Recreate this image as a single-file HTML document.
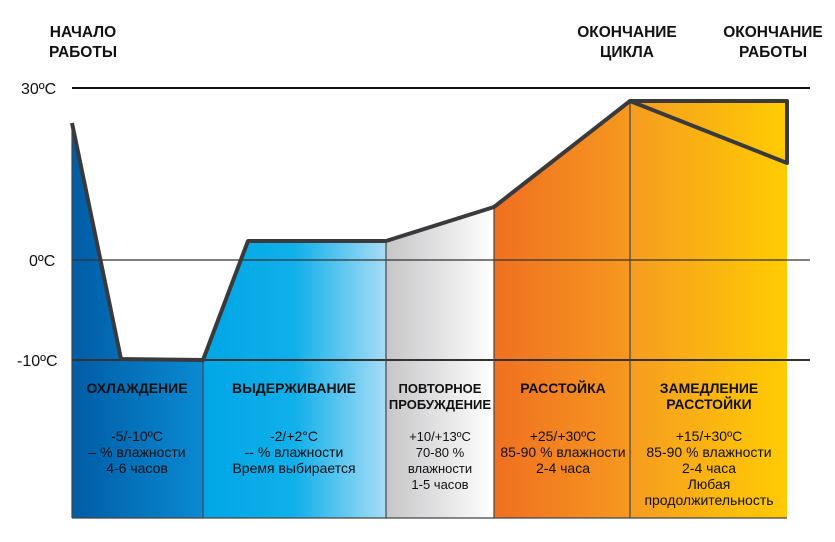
<!DOCTYPE html>
<html><head><meta charset="utf-8"><style>
body{margin:0;background:#fff}
svg{display:block;font-family:"Liberation Sans",Arial,sans-serif}
.h{font-weight:bold;font-size:14px;fill:#111;text-anchor:middle}
.t{font-size:14px;fill:#111;text-anchor:middle}
.ax{font-size:16px;fill:#111}
.top{font-weight:bold;font-size:15.5px;fill:#111;text-anchor:middle}
</style></head><body>
<svg width="835" height="542" viewBox="0 0 835 542">
<defs>
<linearGradient id="g1"><stop offset="0" stop-color="#005ca6"/><stop offset="1" stop-color="#0a8ad2"/></linearGradient>
<linearGradient id="g2"><stop offset="0" stop-color="#00a6e6"/><stop offset="0.5" stop-color="#10b0ea"/><stop offset="1" stop-color="#a6dcf6"/></linearGradient>
<linearGradient id="g3"><stop offset="0" stop-color="#c6c6c8"/><stop offset="1" stop-color="#ffffff"/></linearGradient>
<linearGradient id="g4"><stop offset="0" stop-color="#f07020"/><stop offset="1" stop-color="#f6981f"/></linearGradient>
<linearGradient id="g5"><stop offset="0" stop-color="#f59c20"/><stop offset="1" stop-color="#ffcc02"/></linearGradient>
<clipPath id="c"><polygon points="72,123 121,359 203,360 248,241 386,241 494,207 630,101 787,101 787,518 72,518"/></clipPath>
</defs>
<g clip-path="url(#c)">
<rect x="72" y="90" width="131" height="430" fill="url(#g1)"/>
<rect x="203" y="90" width="183" height="430" fill="url(#g2)"/>
<rect x="386" y="90" width="108" height="430" fill="url(#g3)"/>
<rect x="494" y="90" width="136" height="430" fill="url(#g4)"/>
<rect x="630" y="90" width="157" height="430" fill="url(#g5)"/>
</g>
<line x1="72" y1="88" x2="810" y2="88" stroke="#111" stroke-width="2"/>
<line x1="72" y1="260" x2="810" y2="260" stroke="#333" stroke-width="1.3"/>
<line x1="72" y1="360" x2="810" y2="360" stroke="#333" stroke-width="2"/>
<g stroke="#444" stroke-width="1.2">
<line x1="203" y1="360" x2="203" y2="518"/>
<line x1="386" y1="241" x2="386" y2="518"/>
<line x1="494" y1="207" x2="494" y2="518"/>
<line x1="630" y1="101" x2="630" y2="518"/>
<line x1="72" y1="518" x2="787" y2="518"/>
<line x1="72" y1="123" x2="72" y2="518"/>
</g>
<polyline points="72,123 121,359 203,360 248,241 386,241 494,207 630,101 787,101 787,163 630,101" fill="none" stroke="#3a3a3c" stroke-width="4" stroke-linejoin="round"/>
<text class="ax" x="21" y="94">30ºC</text>
<text class="ax" x="29" y="266">0ºC</text>
<text class="ax" x="17" y="366">-10ºC</text>
<text class="top" x="83" y="37">НАЧАЛО</text>
<text class="top" x="83" y="57">РАБОТЫ</text>
<text class="top" x="627" y="37">ОКОНЧАНИЕ</text>
<text class="top" x="627" y="57">ЦИКЛА</text>
<text class="top" x="773" y="37">ОКОНЧАНИЕ</text>
<text class="top" x="773" y="57">РАБОТЫ</text>
<text class="h" x="137" y="393">ОХЛАЖДЕНИЕ</text>
<text class="t" x="137" y="441">-5/-10ºC</text>
<text class="t" x="137" y="457">– % влажности</text>
<text class="t" x="137" y="473">4-6 часов</text>
<text class="h" x="294" y="393">ВЫДЕРЖИВАНИЕ</text>
<text class="t" x="294" y="441">-2/+2°C</text>
<text class="t" x="294" y="457">-- % влажности</text>
<text class="t" x="294" y="473">Время выбирается</text>
<text class="h" x="440" y="393" style="font-size:13px">ПОВТОРНОЕ</text>
<text class="h" x="440" y="409" style="font-size:13px">ПРОБУЖДЕНИЕ</text>
<text class="t" x="440" y="441" style="font-size:13px">+10/+13ºC</text>
<text class="t" x="440" y="457" style="font-size:13px">70-80 %</text>
<text class="t" x="440" y="473" style="font-size:13px">влажности</text>
<text class="t" x="440" y="489" style="font-size:13px">1-5 часов</text>
<text class="h" x="563" y="393">РАССТОЙКА</text>
<text class="t" x="563" y="441">+25/+30ºC</text>
<text class="t" x="563" y="457">85-90 % влажности</text>
<text class="t" x="563" y="473">2-4 часа</text>
<text class="h" x="709" y="393">ЗАМЕДЛЕНИЕ</text>
<text class="h" x="709" y="409">РАССТОЙКИ</text>
<text class="t" x="709" y="441">+15/+30ºC</text>
<text class="t" x="709" y="457">85-90 % влажности</text>
<text class="t" x="709" y="473">2-4 часа</text>
<text class="t" x="709" y="489">Любая</text>
<text class="t" x="709" y="505">продолжительность</text>
</svg>
</body></html>
